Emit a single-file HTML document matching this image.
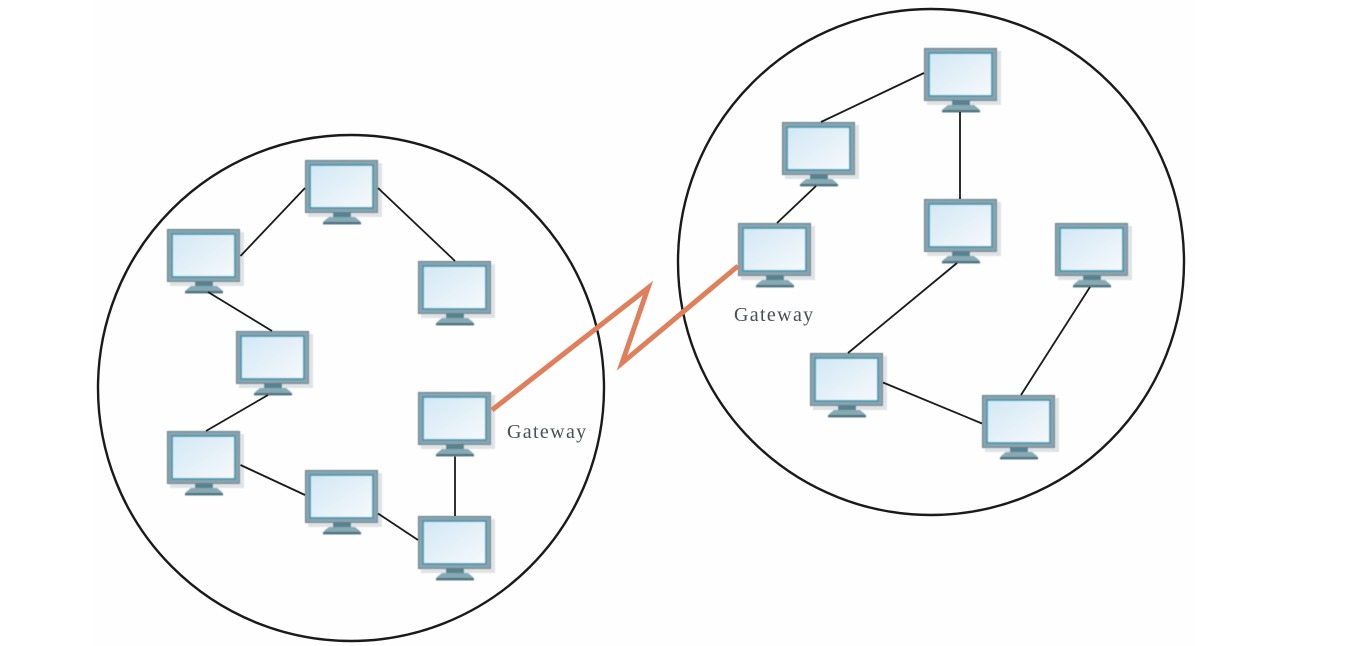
<!DOCTYPE html>
<html>
<head>
<meta charset="utf-8">
<style>
html,body{margin:0;padding:0;background:#fff;width:1360px;height:646px;overflow:hidden}
svg{display:block;position:absolute;left:0;top:0}
text{font-family:"Liberation Serif",serif;font-size:20px;fill:#4a4f52;letter-spacing:1.35px}
</style>
</head>
<body>
<svg width="1360" height="646" viewBox="0 0 1360 646" xmlns="http://www.w3.org/2000/svg" xmlns:xlink="http://www.w3.org/1999/xlink">
<defs>
<linearGradient id="g" x1="0" y1="0" x2="1" y2="1">
<stop offset="0" stop-color="#d3e8f5"/>
<stop offset="1" stop-color="#f5f9fb"/>
</linearGradient>
<filter id="b" x="-5%" y="-5%" width="110%" height="110%"><feGaussianBlur stdDeviation="0.4"/></filter>
<g id="m">
<rect x="3" y="3" width="74" height="54" fill="#dfe3e5"/>
<rect x="28" y="52" width="18" height="6" fill="#558390"/>
<path d="M24 57H50L55 61V63H19V61Z" fill="#86a9b3"/>
<rect x="18" y="62" width="38" height="2.4" fill="#4d727d"/>
<rect x="0.5" y="0.5" width="72" height="52" fill="#8aa3ad" stroke="#647f8b" stroke-width="1"/>
<rect x="4" y="4" width="65" height="45" fill="#4a9cb4"/>
<rect x="6" y="6" width="61" height="41" fill="url(#g)"/>
</g>
</defs>

<rect x="0" y="0" width="1360" height="646" fill="#fff"/>
<rect x="95" y="0" width="1100" height="646" fill="#fefefe"/>

<circle cx="351" cy="388" r="253" fill="none" stroke="#1a1a1a" stroke-width="2.4"/>
<circle cx="931" cy="262" r="253" fill="none" stroke="#1a1a1a" stroke-width="2.4"/>

<g filter="url(#b)">
<use xlink:href="#m" x="305" y="160"/>
<use xlink:href="#m" x="167" y="229"/>
<use xlink:href="#m" x="418" y="261"/>
<use xlink:href="#m" x="236" y="331"/>
<use xlink:href="#m" x="418" y="392"/>
<use xlink:href="#m" x="167" y="431"/>
<use xlink:href="#m" x="305" y="470"/>
<use xlink:href="#m" x="418" y="516"/>

<use xlink:href="#m" x="924" y="48"/>
<use xlink:href="#m" x="782" y="122"/>
<use xlink:href="#m" x="924" y="199"/>
<use xlink:href="#m" x="738" y="223"/>
<use xlink:href="#m" x="1055" y="223"/>
<use xlink:href="#m" x="810" y="353"/>
<use xlink:href="#m" x="982" y="395"/>
</g>

<g stroke="#1a1a1a" stroke-width="1.8" fill="none">
<line x1="240.5" y1="256" x2="305" y2="188"/>
<line x1="378" y1="188" x2="455" y2="261"/>
<line x1="208" y1="292" x2="272" y2="331"/>
<line x1="268" y1="395" x2="206" y2="431"/>
<line x1="240.5" y1="465" x2="305" y2="495"/>
<line x1="378" y1="513.5" x2="418" y2="540"/>
<line x1="455" y1="456.5" x2="455" y2="516"/>
<line x1="924" y1="73" x2="821" y2="122"/>
<line x1="816" y1="186" x2="777" y2="223"/>
<line x1="960" y1="112" x2="960" y2="199"/>
<line x1="957" y1="263" x2="848" y2="353"/>
<line x1="883" y1="382.5" x2="982" y2="423.5"/>
<line x1="1090" y1="287" x2="1021" y2="395"/>
</g>

<polyline points="492,410 648,288 622,363 738,266" fill="none" stroke="#e07f5c" stroke-width="5" stroke-linejoin="miter" stroke-miterlimit="10"/>

<text x="507" y="438">Gateway</text>
<text x="734" y="321">Gateway</text>
</svg>
</body>
</html>
